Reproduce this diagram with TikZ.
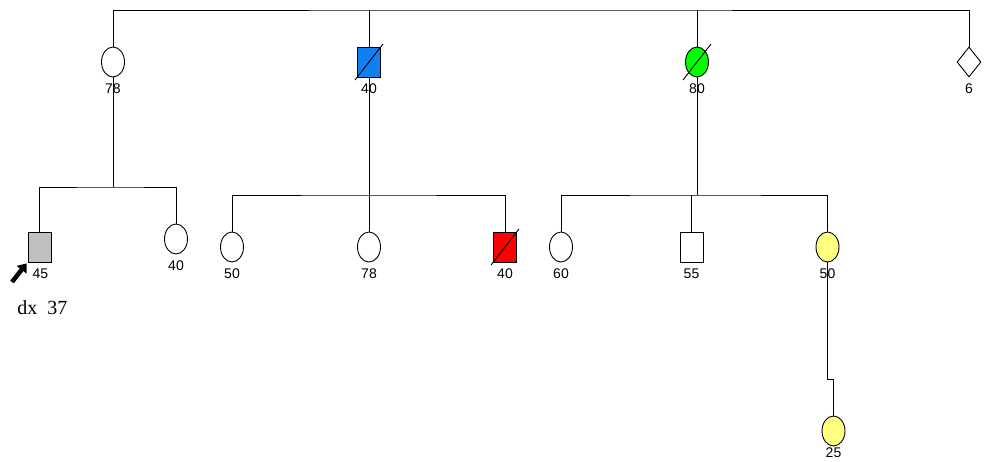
\documentclass[tikz,border=0pt]{standalone}
\usepackage{fontspec}
\setmainfont{Liberation Sans}
\newfontfamily\notefont{Liberation Serif}
\usetikzlibrary{shapes.geometric, arrows.meta}

\definecolor{affblue}{RGB}{16,128,240}
\definecolor{affgreen}{RGB}{0,255,0}
\definecolor{affred}{RGB}{255,0,0}
\definecolor{affgray}{RGB}{192,192,192}
\definecolor{affyellow}{RGB}{255,255,128}

\begin{document}
\begin{tikzpicture}[
    x=1pt, y=-1pt, line width=0.9pt,
    every node/.style={inner sep=0pt},
    female/.style={draw, ellipse, minimum width=23pt, minimum height=30pt},
    male/.style={draw, rectangle, minimum width=23pt, minimum height=30pt},
    unknown/.style={draw, diamond, minimum width=24pt, minimum height=30pt},
    every label/.style={font=\fontsize{14}{16}\selectfont, inner sep=0pt},
    label distance=6pt
]
    \useasboundingbox (0,0) rectangle (991,461);

    % generation I
    \node[female, label=below:78] (I1) at (113,62) {};
    \node[male, fill=affblue, label=below:40] (I2) at (369,62) {};
    \node[female, fill=affgreen, label=below:80] (I3) at (697,62) {};
    \node[unknown, label=below:6] (I4) at (969,62) {};

    % generation II
    \node[male, fill=affgray, label={[xshift=1pt]below:45}] (II1) at (39.5,247) {};
    \node[female, label=below:40] (II2) at (176,239) {};
    \node[female, label=below:50] (II3) at (232,247) {};
    \node[female, label=below:78] (II4) at (369,247) {};
    \node[male, fill=affred, label=below:40] (II5) at (505,247) {};
    \node[female, label=below:60] (II6) at (561,247) {};
    \node[male, label=below:55] (II7) at (691.5,247) {};
    \node[female, fill=affyellow, label=below:50] (II8) at (827.5,247) {};

    % generation III
    \node[female, fill=affyellow, label={[label distance=1pt]below:25}] (III1) at (833.5,431) {};

    \node[font=\notefont\fontsize{20}{22}\selectfont, anchor=base west] (dx) at (17,314) {dx~~37};

    % sibship lines
    \coordinate (top) at (500,10);
    \draw (I1.north) |- (top) -| (I4.north);
    \draw (I2.north) -- (I2.north |- top);
    \draw (I3.north) -- (I3.north |- top);

    \coordinate (sib1) at (113,187);
    \draw (I1.south) -- (sib1);
    \draw (II1.north) |- (sib1) -| (II2.north);

    \coordinate (sib2) at (369,195);
    \draw (I2.south) -- (sib2);
    \draw (II3.north) |- (sib2) -| (II5.north);
    \draw (II4.north) -- (sib2);

    \coordinate (sib3) at (697,195);
    \draw (I3.south) -- (sib3);
    \draw (II6.north) |- (sib3) -| (II8.north);
    \draw (II7.north) -- (II7.north |- sib3);

    \coordinate (jog) at (833.5,379);
    \draw (II8.south) |- (jog) -- (III1.north);

    % deceased
    \foreach \n in {I2, I3, II5}
        \draw ([shift={(-14pt,-18pt)}]\n.center) -- ([shift={(14pt,18pt)}]\n.center);

    % proband
    \coordinate (pb) at (12,282);
    \draw[line width=4.5pt, -{Triangle[length=8pt, width=12pt]}] (pb) -- ([shift={(-1pt,-1pt)}]II1.south west);

\end{tikzpicture}
\end{document}
